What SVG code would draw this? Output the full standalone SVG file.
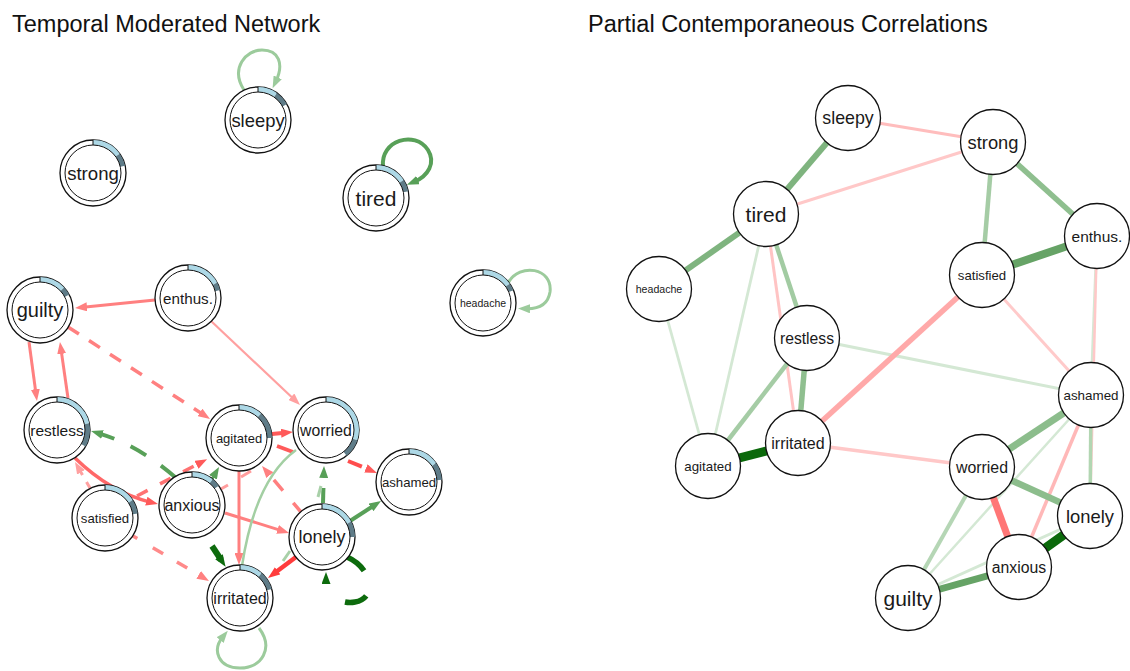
<svg xmlns="http://www.w3.org/2000/svg" width="1130" height="671" viewBox="0 0 1130 671">
<style>
  .title { font-family: "Liberation Sans", Arial, sans-serif; font-size: 23.5px; fill: #111; }
  .lab { font-family: "Liberation Sans", Arial, sans-serif; text-anchor: middle; dominant-baseline: central; fill: #1a1a1a; }
  .ring { fill: #fff; stroke: #111; stroke-width: 1.3; }
  .inner { fill: none; stroke: #111; stroke-width: 1; }
  .tick { stroke: #111; stroke-width: 1; }
  .pa { fill: none; stroke: #add8e6; stroke-width: 5; }
  .pb { fill: none; stroke: #5f7c88; stroke-width: 5; }
  .pnode { fill: #fff; stroke: #111; stroke-width: 1.3; }
  .e { fill: none; stroke-linecap: butt; }
</style>
<defs>
  <marker id="a-pink" viewBox="0 0 12 9" refX="4" refY="4.5" markerWidth="12" markerHeight="9" markerUnits="userSpaceOnUse" orient="auto"><path d="M0,0 L12,4.5 L0,9 Z" fill="#ff8080"/></marker>
  <marker id="a-lpink" viewBox="0 0 12 9" refX="4" refY="4.5" markerWidth="12" markerHeight="9" markerUnits="userSpaceOnUse" orient="auto"><path d="M0,0 L12,4.5 L0,9 Z" fill="#ffa0a0"/></marker>
  <marker id="a-red" viewBox="0 0 12 9" refX="4" refY="4.5" markerWidth="12" markerHeight="9" markerUnits="userSpaceOnUse" orient="auto"><path d="M0,0 L12,4.5 L0,9 Z" fill="#ff5a5a"/></marker>
  <marker id="a-red2" viewBox="0 0 12 9" refX="4" refY="4.5" markerWidth="12" markerHeight="9" markerUnits="userSpaceOnUse" orient="auto"><path d="M0,0 L12,4.5 L0,9 Z" fill="#ff3c3c"/></marker>
  <marker id="a-green" viewBox="0 0 12 9" refX="4" refY="4.5" markerWidth="12" markerHeight="9" markerUnits="userSpaceOnUse" orient="auto"><path d="M0,0 L12,4.5 L0,9 Z" fill="#58a058"/></marker>
  <marker id="a-lgreen" viewBox="0 0 12 9" refX="4" refY="4.5" markerWidth="12" markerHeight="9" markerUnits="userSpaceOnUse" orient="auto"><path d="M0,0 L12,4.5 L0,9 Z" fill="#9ccb9c"/></marker>
  <marker id="a-dgreen" viewBox="0 0 12 9" refX="4" refY="4.5" markerWidth="12" markerHeight="9" markerUnits="userSpaceOnUse" orient="auto"><path d="M0,0 L12,4.5 L0,9 Z" fill="#0d6b0d"/></marker>
</defs>
<rect width="1130" height="671" fill="#fff"/>

<text class="title" x="12" y="32">Temporal Moderated Network</text>
<text class="title" x="588" y="32">Partial Contemporaneous Correlations</text>

<!-- temporal network: directed edges -->
<g id="temporal-edges">
  <!-- self loops -->
  <path class="e" d="M244,90 C230,68 246,50 262,50 C279,50 284,64 276,81" stroke="#9ccb9c" stroke-width="3" marker-end="url(#a-lgreen)"/>
  <path class="e" d="M383,167 C380,140 415,130 428,150 C436,163 428,176 414.3,181.7" stroke="#58a058" stroke-width="4" marker-end="url(#a-green)"/>
  <path class="e" d="M508,283 C520,262 553,268 550,292 C548,305 538,309 526,308.7" stroke="#9ccb9c" stroke-width="3" marker-end="url(#a-lgreen)"/>
  <path class="e" d="M259,628 C274,648 262,668 240,668 C218,668 212,650 222.7,637" stroke="#9ccb9c" stroke-width="3" marker-end="url(#a-lgreen)"/>
  <path class="e" d="M347,557 C372,568 378,598 355,602 C340,605 326,594 326,580" stroke="#0d6b0d" stroke-width="5.5" stroke-dasharray="22 27 23 40" marker-end="url(#a-dgreen)"/>

  <!-- enthus. -->
  <path class="e" d="M155,300 L83,307.2" stroke="#ff8080" stroke-width="3" marker-end="url(#a-pink)"/>
  <path class="e" d="M211,321 L294.2,399.5" stroke="#ffa0a0" stroke-width="2.2" marker-end="url(#a-lpink)"/>
  <!-- guilty / restless -->
  <path class="e" d="M29,342 L35.9,393.1" stroke="#ff8080" stroke-width="3" marker-end="url(#a-pink)"/>
  <path class="e" d="M68,398 L61.1,349.9" stroke="#ff8080" stroke-width="3" marker-end="url(#a-pink)"/>
  <path class="e" d="M68,327 L203.3,414.6" stroke="#ff8080" stroke-width="3.5" stroke-dasharray="13 12" marker-end="url(#a-pink)"/>
  <!-- anxious / restless -->
  <path class="e" d="M175,477 Q138,445 98.7,433.3" stroke="#58a058" stroke-width="4" stroke-dasharray="18 18" marker-end="url(#a-green)"/>
  <path class="e" d="M75,458 Q110,492 150.2,502.1" stroke="#ff6868" stroke-width="3.5" marker-end="url(#a-red)"/>
  <path class="e" d="M90,488 L79,468.9" stroke="#ffa0a0" stroke-width="3" stroke-dasharray="7 8" marker-end="url(#a-lpink)"/>
  <!-- satisfied -->
  <path class="e" d="M137,496 L200,462.9" stroke="#ff7272" stroke-width="3.5" stroke-dasharray="12 14" marker-end="url(#a-red)"/>
  <path class="e" d="M133,536 L202.1,576.9" stroke="#ff8a8a" stroke-width="3.5" stroke-dasharray="5 18 12 16 12 40" marker-end="url(#a-pink)"/>
  <!-- anxious -->
  <path class="e" d="M212,479 L215,473.9" stroke="#58a058" stroke-width="3" marker-end="url(#a-green)"/>
  <path class="e" d="M225,513 L281.4,530.6" stroke="#ff8080" stroke-width="3" marker-end="url(#a-pink)"/>
  <path class="e" d="M212,546 L221.2,560" stroke="#0d6b0d" stroke-width="6" marker-end="url(#a-dgreen)"/>
  <path class="e" d="M221,489 L228,485 M241,477 L251,471" stroke="#ff9d9d" stroke-width="3"/>
  <!-- agitated / worried -->
  <path class="e" d="M272,434 L285,432.8" stroke="#ff5a5a" stroke-width="4" marker-end="url(#a-red)"/>
  <path class="e" d="M293,452 L277,446" stroke="#ff5a5a" stroke-width="4"/>
  <path class="e" d="M239,471 L239,557" stroke="#ff8080" stroke-width="3" marker-end="url(#a-pink)"/>
  <path class="e" d="M242,566 Q255,480 296,450" stroke="#a3cfa3" stroke-width="2.5"/>
  <path class="e" d="M348,461 L369.6,469.9" stroke="#ff4d4d" stroke-width="4" stroke-dasharray="15 20" marker-end="url(#a-red)"/>
  <!-- lonely -->
  <path class="e" d="M350,521 L374.3,505.3" stroke="#58a058" stroke-width="4" marker-end="url(#a-green)"/>
  <path class="e" d="M323,503 L323.8,474" stroke="#58a058" stroke-width="4" stroke-dasharray="15 20" marker-end="url(#a-green)"/>
  <path class="e" d="M318,497 L321,486" stroke="#a8d0a8" stroke-width="3"/>
  <path class="e" d="M301,512 L267.2,472.1" stroke="#ff7f7f" stroke-width="3.5" stroke-dasharray="12 16 14 30" marker-end="url(#a-pink)"/>
  <path class="e" d="M296,557 L274.4,573.2" stroke="#ff3c3c" stroke-width="4.5" marker-end="url(#a-red2)"/>
  <path class="e" d="M283,561 L290,551" stroke="#a8d0a8" stroke-width="3"/>
</g>

<!-- temporal network: nodes with ring charts -->
<g id="tmn-sleepy" transform="translate(258,120)">
  <circle class="ring" r="33"/><circle class="pa" r="30.5" transform="rotate(-90)" stroke-dasharray="18.63 200"/><circle class="pb" r="30.5" transform="rotate(-90)" stroke-dasharray="13.84 200" stroke-dashoffset="-18.63"/><circle class="inner" r="28"/><line class="tick" x1="0" y1="-28" x2="0" y2="-33"/>
  <text class="lab" font-size="18.4">sleepy</text>
</g>
<g id="tmn-strong" transform="translate(93,173)">
  <circle class="ring" r="33"/><circle class="pa" r="30.5" transform="rotate(-90)" stroke-dasharray="28.74 200"/><circle class="pb" r="30.5" transform="rotate(-90)" stroke-dasharray="12.24 200" stroke-dashoffset="-28.74"/><circle class="inner" r="28"/><line class="tick" x1="0" y1="-28" x2="0" y2="-33"/>
  <text class="lab" font-size="18.6">strong</text>
</g>
<g id="tmn-tired" transform="translate(376,198)">
  <circle class="ring" r="33"/><circle class="pa" r="30.5" transform="rotate(-90)" stroke-dasharray="30.34 200"/><circle class="pb" r="30.5" transform="rotate(-90)" stroke-dasharray="11.18 200" stroke-dashoffset="-30.34"/><circle class="inner" r="28"/><line class="tick" x1="0" y1="-28" x2="0" y2="-33"/>
  <text class="lab" font-size="21">tired</text>
</g>
<g id="tmn-headache" transform="translate(483,303)">
  <circle class="ring" r="33"/><circle class="pa" r="30.5" transform="rotate(-90)" stroke-dasharray="28.74 200"/><circle class="pb" r="30.5" transform="rotate(-90)" stroke-dasharray="6.92 200" stroke-dashoffset="-28.74"/><circle class="inner" r="28"/><line class="tick" x1="0" y1="-28" x2="0" y2="-33"/>
  <text class="lab" font-size="10.5">headache</text>
</g>
<g id="tmn-guilty" transform="translate(40,310)">
  <circle class="ring" r="33"/><circle class="pa" r="30.5" transform="rotate(-90)" stroke-dasharray="25.02 200"/><circle class="pb" r="30.5" transform="rotate(-90)" stroke-dasharray="7.98 200" stroke-dashoffset="-25.02"/><circle class="inner" r="28"/><line class="tick" x1="0" y1="-28" x2="0" y2="-33"/>
  <text class="lab" font-size="20">guilty</text>
</g>
<g id="tmn-enthus" transform="translate(188,298)">
  <circle class="ring" r="33"/><circle class="pa" r="30.5" transform="rotate(-90)" stroke-dasharray="33 200"/><circle class="pb" r="30.5" transform="rotate(-90)" stroke-dasharray="7.45 200" stroke-dashoffset="-33"/><circle class="inner" r="28"/><line class="tick" x1="0" y1="-28" x2="0" y2="-33"/>
  <text class="lab" font-size="15.2">enthus.</text>
</g>
<g id="tmn-restless" transform="translate(57,430)">
  <circle class="ring" r="33"/><circle class="pa" r="30.5" transform="rotate(-90)" stroke-dasharray="41.52 200"/><circle class="pb" r="30.5" transform="rotate(-90)" stroke-dasharray="22.36 200" stroke-dashoffset="-41.52"/><circle class="inner" r="28"/><line class="tick" x1="0" y1="-28" x2="0" y2="-33"/>
  <text class="lab" font-size="15.5">restless</text>
</g>
<g id="tmn-agitated" transform="translate(239,438)">
  <circle class="ring" r="33"/><circle class="pa" r="30.5" transform="rotate(-90)" stroke-dasharray="22.36 200"/><circle class="pb" r="30.5" transform="rotate(-90)" stroke-dasharray="25.55 200" stroke-dashoffset="-22.36"/><circle class="inner" r="28"/><line class="tick" x1="0" y1="-28" x2="0" y2="-33"/>
  <text class="lab" font-size="13">agitated</text>
</g>
<g id="tmn-worried" transform="translate(326,430)">
  <circle class="ring" r="33"/><circle class="pa" r="30.5" transform="rotate(-90)" stroke-dasharray="57.49 200"/><circle class="pb" r="30.5" transform="rotate(-90)" stroke-dasharray="17.57 200" stroke-dashoffset="-57.49"/><circle class="inner" r="28"/><line class="tick" x1="0" y1="-28" x2="0" y2="-33"/>
  <text class="lab" font-size="15.8">worried</text>
</g>
<g id="tmn-ashamed" transform="translate(409,482)">
  <circle class="ring" r="33"/><circle class="pa" r="30.5" transform="rotate(-90)" stroke-dasharray="29.28 200"/><circle class="pb" r="30.5" transform="rotate(-90)" stroke-dasharray="16.5 200" stroke-dashoffset="-29.28"/><circle class="inner" r="28"/><line class="tick" x1="0" y1="-28" x2="0" y2="-33"/>
  <text class="lab" font-size="13.2">ashamed</text>
</g>
<g id="tmn-lonely" transform="translate(322,537)">
  <circle class="ring" r="33"/><circle class="pa" r="30.5" transform="rotate(-90)" stroke-dasharray="33 200"/><circle class="pb" r="30.5" transform="rotate(-90)" stroke-dasharray="14.9 200" stroke-dashoffset="-33"/><circle class="inner" r="28"/><line class="tick" x1="0" y1="-28" x2="0" y2="-33"/>
  <text class="lab" font-size="18">lonely</text>
</g>
<g id="tmn-anxious" transform="translate(192,505)">
  <circle class="ring" r="33"/><circle class="pa" r="30.5" transform="rotate(-90)" stroke-dasharray="20.76 200"/><circle class="pb" r="30.5" transform="rotate(-90)" stroke-dasharray="7.98 200" stroke-dashoffset="-20.76"/><circle class="inner" r="28"/><line class="tick" x1="0" y1="-28" x2="0" y2="-33"/>
  <text class="lab" font-size="16">anxious</text>
</g>
<g id="tmn-satisfied" transform="translate(105,518)">
  <circle class="ring" r="33"/><circle class="pa" r="30.5" transform="rotate(-90)" stroke-dasharray="30.34 200"/><circle class="pb" r="30.5" transform="rotate(-90)" stroke-dasharray="13.31 200" stroke-dashoffset="-30.34"/><circle class="inner" r="28"/><line class="tick" x1="0" y1="-28" x2="0" y2="-33"/>
  <text class="lab" font-size="13.2">satisfied</text>
</g>
<g id="tmn-irritated" transform="translate(240,598)">
  <circle class="ring" r="33"/><circle class="pa" r="30.5" transform="rotate(-90)" stroke-dasharray="21.82 200"/><circle class="pb" r="30.5" transform="rotate(-90)" stroke-dasharray="17.57 200" stroke-dashoffset="-21.82"/><circle class="inner" r="28"/><line class="tick" x1="0" y1="-28" x2="0" y2="-33"/>
  <text class="lab" font-size="16">irritated</text>
</g>

<!-- contemporaneous network: undirected edges -->
<g id="pcc-edges" fill="none">
  <line x1="766" y1="214" x2="708" y2="466" stroke="#d4e8d4" stroke-width="2.8"/>
  <line x1="659" y1="289" x2="708" y2="466" stroke="#d4e8d4" stroke-width="2.8"/>
  <line x1="807" y1="338" x2="1091" y2="395" stroke="#d4e8d4" stroke-width="3"/>
  <line x1="1097" y1="236" x2="1091" y2="395" stroke="#d4e8d4" stroke-width="3"/>
  <line x1="1091" y1="395" x2="908" y2="598" stroke="#d4e8d4" stroke-width="2.5"/>
  <line x1="908" y1="598" x2="1090" y2="516" stroke="#d4e8d4" stroke-width="3"/>
  <line x1="848" y1="118" x2="993" y2="142" stroke="#ffbdbd" stroke-width="3"/>
  <line x1="993" y1="142" x2="766" y2="214" stroke="#ffc8c8" stroke-width="3"/>
  <line x1="766" y1="214" x2="798" y2="443" stroke="#ffc4c4" stroke-width="3"/>
  <line x1="982" y1="275" x2="1091" y2="395" stroke="#ffcaca" stroke-width="3"/>
  <line x1="1097" y1="236" x2="1090" y2="516" stroke="#ffc8c8" stroke-width="2.5"/>
  <line x1="798" y1="443" x2="982" y2="467" stroke="#ffc8c8" stroke-width="3.5"/>
  <line x1="1091" y1="395" x2="1019" y2="567" stroke="#ffb8b8" stroke-width="3.5"/>
  <line x1="1091" y1="395" x2="1090" y2="516" stroke="#b2d6b2" stroke-width="3.5"/>
  <line x1="982" y1="467" x2="908" y2="598" stroke="#b5d6b5" stroke-width="4"/>
  <line x1="993" y1="142" x2="982" y2="275" stroke="#a5cca5" stroke-width="4.5"/>
  <line x1="807" y1="338" x2="708" y2="466" stroke="#a5cca5" stroke-width="4.5"/>
  <line x1="766" y1="214" x2="807" y2="338" stroke="#a2cba2" stroke-width="4.5"/>
  <line x1="993" y1="142" x2="1097" y2="236" stroke="#8fbf8f" stroke-width="5.5"/>
  <line x1="807" y1="338" x2="798" y2="443" stroke="#8fbf8f" stroke-width="5.5"/>
  <line x1="1091" y1="395" x2="982" y2="467" stroke="#8cbd8c" stroke-width="7"/>
  <line x1="982" y1="467" x2="1090" y2="516" stroke="#8cbd8c" stroke-width="6.5"/>
  <line x1="848" y1="118" x2="766" y2="214" stroke="#7fb47f" stroke-width="6"/>
  <line x1="766" y1="214" x2="659" y2="289" stroke="#7fb47f" stroke-width="6"/>
  <line x1="982" y1="275" x2="1097" y2="236" stroke="#66a366" stroke-width="8"/>
  <line x1="1019" y1="567" x2="908" y2="598" stroke="#66a366" stroke-width="7"/>
  <line x1="982" y1="275" x2="798" y2="443" stroke="#ffa9a9" stroke-width="5.5"/>
  <line x1="982" y1="467" x2="1019" y2="567" stroke="#ff7676" stroke-width="7"/>
  <line x1="798" y1="443" x2="708" y2="466" stroke="#0b690b" stroke-width="9"/>
  <line x1="1090" y1="516" x2="1019" y2="567" stroke="#0b690b" stroke-width="9"/>
</g>

<!-- contemporaneous network: nodes -->
<g id="pcc-sleepy"><circle class="pnode" cx="848" cy="118" r="32.5"/><text class="lab" x="848" y="118" font-size="17.8">sleepy</text></g>
<g id="pcc-strong"><circle class="pnode" cx="993" cy="142" r="32.5"/><text class="lab" x="993" y="142" font-size="18.3">strong</text></g>
<g id="pcc-tired"><circle class="pnode" cx="766" cy="214" r="32.5"/><text class="lab" x="766" y="214" font-size="21">tired</text></g>
<g id="pcc-headache"><circle class="pnode" cx="659" cy="289" r="32.5"/><text class="lab" x="659" y="289" font-size="10.6">headache</text></g>
<g id="pcc-restless"><circle class="pnode" cx="807" cy="338" r="32.5"/><text class="lab" x="807" y="338" font-size="15.7">restless</text></g>
<g id="pcc-satisfied"><circle class="pnode" cx="982" cy="275" r="32.5"/><text class="lab" x="982" y="275" font-size="13.2">satisfied</text></g>
<g id="pcc-enthus"><circle class="pnode" cx="1097" cy="236" r="32.5"/><text class="lab" x="1097" y="236" font-size="15.5">enthus.</text></g>
<g id="pcc-ashamed"><circle class="pnode" cx="1091" cy="395" r="32.5"/><text class="lab" x="1091" y="395" font-size="13.4">ashamed</text></g>
<g id="pcc-agitated"><circle class="pnode" cx="708" cy="466" r="32.5"/><text class="lab" x="708" y="466" font-size="13.3">agitated</text></g>
<g id="pcc-irritated"><circle class="pnode" cx="798" cy="443" r="32.5"/><text class="lab" x="798" y="443" font-size="16">irritated</text></g>
<g id="pcc-worried"><circle class="pnode" cx="982" cy="467" r="32.5"/><text class="lab" x="982" y="467" font-size="15.9">worried</text></g>
<g id="pcc-lonely"><circle class="pnode" cx="1090" cy="516" r="32.5"/><text class="lab" x="1090" y="516" font-size="18.4">lonely</text></g>
<g id="pcc-anxious"><circle class="pnode" cx="1019" cy="567" r="32.5"/><text class="lab" x="1019" y="567" font-size="15.8">anxious</text></g>
<g id="pcc-guilty"><circle class="pnode" cx="908" cy="598" r="32.5"/><text class="lab" x="908" y="598" font-size="21">guilty</text></g>
</svg>
